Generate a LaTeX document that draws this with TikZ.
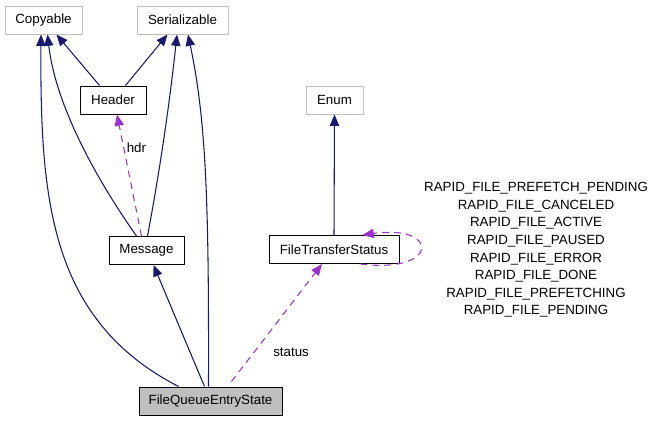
\documentclass[tikz,border=0pt]{standalone}
\usepackage{fontspec}
\setmainfont{Liberation Sans}
\usetikzlibrary{arrows.meta,calc}
\definecolor{navy}{HTML}{191970}
\definecolor{orchid}{HTML}{9A32CD}
\definecolor{boxgray}{HTML}{BFBFBF}
\begin{document}
\begin{tikzpicture}[x=0.75pt,y=-0.75pt,
  font=\fontsize{10}{12}\selectfont,
  cls/.style={draw=black,line width=0.75pt,inner sep=0pt,minimum height=21pt,anchor=center},
  ext/.style={cls,draw=boxgray},
  inh/.style={navy,line width=0.8pt,-{Triangle[length=8.5pt,width=7pt]}},
  use/.style={orchid,line width=0.8pt,dashed,dash pattern=on 5pt off 4pt,-{Triangle[length=8.5pt,width=7pt]}},
  lbl/.style={inner sep=0pt,text=black,font=\fontsize{10}{12}\selectfont}]
\useasboundingbox (0,0) rectangle (655,421);
\node[ext,minimum width=57.75pt] (cop) at (43.5,20) {Copyable};
\node[ext,minimum width=68.25pt] (ser) at (182.5,20) {Serializable};
\node[cls,minimum width=49.5pt] (hdr) at (113,100) {Header};
\node[cls,minimum width=56.25pt] (msg) at (146.5,250.5) {Message};
\node[cls,fill=boxgray,minimum width=107.25pt] (fqes) at (210.5,401) {FileQueueEntryState};
\node[ext,minimum width=42.75pt] (enum) at (334.5,100) {Enum};
\node[cls,minimum width=97.5pt] (fts) at (334,249.5) {FileTransferStatus};
\node[lbl,align=center,font=\fontsize{10}{13.2}\selectfont] (vals) at (536,250) {RAPID\_FILE\_PREFETCH\_PENDING\\RAPID\_FILE\_CANCELED\\RAPID\_FILE\_ACTIVE\\RAPID\_FILE\_PAUSED\\RAPID\_FILE\_ERROR\\RAPID\_FILE\_DONE\\RAPID\_FILE\_PREFETCHING\\RAPID\_FILE\_PENDING};
% inheritance
\draw[inh] ($(fqes.north west)+(40,0)$) .. controls (50,320) and (40,200) .. ($(cop.south)+(-2.5,0)$);
\draw[inh] ($(msg.north west)+(28,0)$) .. controls (90,170) and (55,100) .. ($(cop.south)+(4,0)$);
\draw[inh] ($(hdr.north west)+(20,0)$) -- ($(cop.south)+(13,0)$);
\draw[inh] ($(hdr.north east)+(-21,0)$) -- ($(ser.south)+(-15,0)$);
\draw[inh] ($(msg.north west)+(39,0)$) .. controls (160,170) and (170,100) .. ($(ser.south)+(-5.5,0)$);
\draw[inh] ($(fqes.north west)+(70,0)$) .. controls (209,200) and (206,120) .. ($(ser.south)+(5.5,0)$);
\draw[inh] ($(fqes.north west)+(66,0)$) -- ($(msg.south)+(7,0)$);
\draw[inh] (fts.north) -- (enum.south);
% usage
\draw[use] ($(msg.north west)+(33,0)$) -- node[lbl,pos=0.73,right=2pt] (hdrlbl) {hdr} ($(hdr.south)+(4,0)$);
\draw[use] ($(fqes.north west)+(93,-5)$) -- node[lbl,pos=0.25,right=14pt] (stlbl) {status} ($(fts.south)+(-12,0)$);
\draw[use] ($(fts.south east)+(-39,0)$) .. controls (440,274) and (440,224) .. ($(fts.north east)+(-37,0)$);
\end{tikzpicture}
\end{document}
